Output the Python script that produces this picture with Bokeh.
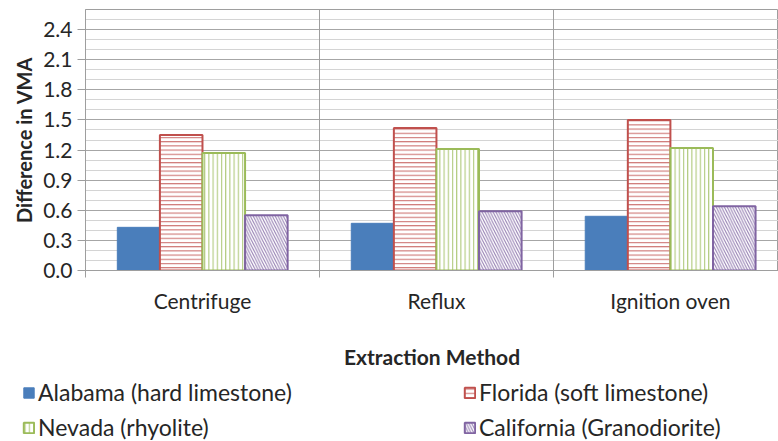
from bokeh.plotting import figure
from bokeh.layouts import column
from bokeh.models import (ColumnDataSource, Range1d, FixedTicker, SingleIntervalTicker,
                          Grid, Legend, LegendItem, NumeralTickFormatter)
from bokeh.embed import file_html
from bokeh.resources import INLINE

methods = ["Centrifuge", "Reflux", "Ignition oven"]
series = ["Alabama (hard limestone)", "Florida (soft limestone)",
          "Nevada (rhyolite)", "California (Granodiorite)"]
alabama = [0.43, 0.47, 0.54]
florida = [1.35, 1.42, 1.50]
nevada = [1.17, 1.21, 1.22]
california = [0.55, 0.59, 0.64]

values = [alabama, florida, nevada, california]
colors = ["#4A7EBB", "#C0504D", "#9BBB59", "#8064A2"]
hatches = [None, "-", "|", "\\"]
hatch_scales = [None, 4.2, 4.2, 5.5]

FONT = "Lato"
TXT = "#262626"


def bar_style(k):
    if hatches[k] is None:
        return dict(fill_color=colors[k], line_color=colors[k], line_width=1)
    return dict(fill_color="white", line_color=colors[k], line_width=2,
                hatch_pattern=hatches[k], hatch_color=colors[k],
                hatch_scale=hatch_scales[k], hatch_weight=1.1, hatch_alpha=0.8)


p = figure(width=778, height=378, output_backend="svg", toolbar_location=None,
           x_range=Range1d(0, 2.962), y_range=Range1d(0, 2.6),
           min_border_left=85, min_border_right=0, min_border_top=9,
           min_border_bottom=108)
p.frame_align = False
p.background_fill_color = "white"
p.border_fill_color = "white"
p.outline_line_color = "#9E9E9E"

yt = SingleIntervalTicker(interval=0.3, num_minor_ticks=3)
p.yaxis.ticker = yt
p.ygrid.ticker = yt
p.ygrid.grid_line_color = "#A6A6A6"
p.ygrid.minor_grid_line_color = "#D4D4D4"
p.xgrid.visible = False
p.add_layout(Grid(dimension=0, ticker=FixedTicker(ticks=[1, 2]),
                  grid_line_color="#9E9E9E", grid_line_width=1))

bar_w = 0.182
offs = [-1.5 * bar_w, -0.5 * bar_w, 0.5 * bar_w, 1.5 * bar_w]
for k in range(4):
    xs = [i + 0.5 + offs[k] for i in range(len(methods))]
    src = ColumnDataSource(dict(x=xs, top=values[k]))
    p.vbar(x="x", top="top", width=bar_w, source=src, **bar_style(k))

p.yaxis.formatter = NumeralTickFormatter(format="0.0")
p.yaxis.axis_line_color = "#9E9E9E"
p.yaxis.major_tick_line_color = "#9E9E9E"
p.yaxis.major_tick_out = 8
p.yaxis.major_tick_in = 0
p.yaxis.minor_tick_line_color = None
p.yaxis.major_label_text_font = FONT
p.yaxis.major_label_text_font_size = "21px"
p.yaxis.major_label_text_color = TXT
p.yaxis.major_label_standoff = 5
p.yaxis.axis_label = "Difference in VMA"
p.yaxis.axis_label_text_font = FONT
p.yaxis.axis_label_text_font_style = "bold"
p.yaxis.axis_label_text_font_size = "20px"
p.yaxis.axis_label_text_color = TXT
p.yaxis.axis_label_standoff = 4

p.xaxis.ticker = FixedTicker(ticks=[i + 0.5 for i in range(len(methods))],
                             minor_ticks=[0, 1, 2, 3])
p.xaxis.major_label_overrides = {i + 0.5: m for i, m in enumerate(methods)}
p.xaxis.axis_line_color = "#9E9E9E"
p.xaxis.major_tick_line_color = None
p.xaxis.major_tick_out = 7
p.xaxis.minor_tick_line_color = "#9E9E9E"
p.xaxis.minor_tick_out = 7
p.xaxis.minor_tick_in = 0
p.xaxis.major_label_text_font = FONT
p.xaxis.major_label_text_font_size = "21px"
p.xaxis.major_label_text_color = TXT
p.xaxis.major_label_standoff = 10
p.xaxis.axis_label = "Extraction Method"
p.xaxis.axis_label_text_font = FONT
p.xaxis.axis_label_text_font_style = "bold"
p.xaxis.axis_label_text_font_size = "21px"
p.xaxis.axis_label_text_color = TXT
p.xaxis.axis_label_standoff = 28

# legend panel (its own small plot, glyphs drawn only as legend swatches)
lf = figure(width=778, height=63, output_backend="svg", toolbar_location=None,
            x_range=Range1d(0, 1), y_range=Range1d(0, 1),
            x_axis_location=None, y_axis_location=None,
            min_border=0, min_border_left=0, min_border_right=0,
            min_border_top=0, min_border_bottom=0)
lf.frame_align = False
lf.outline_line_color = None
lf.xgrid.visible = False
lf.ygrid.visible = False
lrs = []
for k in range(4):
    src = ColumnDataSource(dict(x=[float("nan")], top=[float("nan")]))
    lrs.append(lf.vbar(x="x", top="top", width=0.1, source=src, **bar_style(k)))


def make_legend(idx, loc):
    lg = Legend(items=[LegendItem(label=series[i], renderers=[lrs[i]]) for i in idx],
                location=loc, orientation="vertical",
                glyph_width=13, glyph_height=13, label_standoff=3,
                label_text_font=FONT, label_text_font_size="23px",
                label_text_color=TXT, label_height=27, spacing=7,
                padding=0, margin=0, border_line_color=None,
                background_fill_alpha=0)
    lf.add_layout(lg, "center")


make_legend([0, 2], (22, 0))
make_legend([1, 3], (463, 0))

open("out.html", "w").write(file_html(column(p, lf), INLINE))
